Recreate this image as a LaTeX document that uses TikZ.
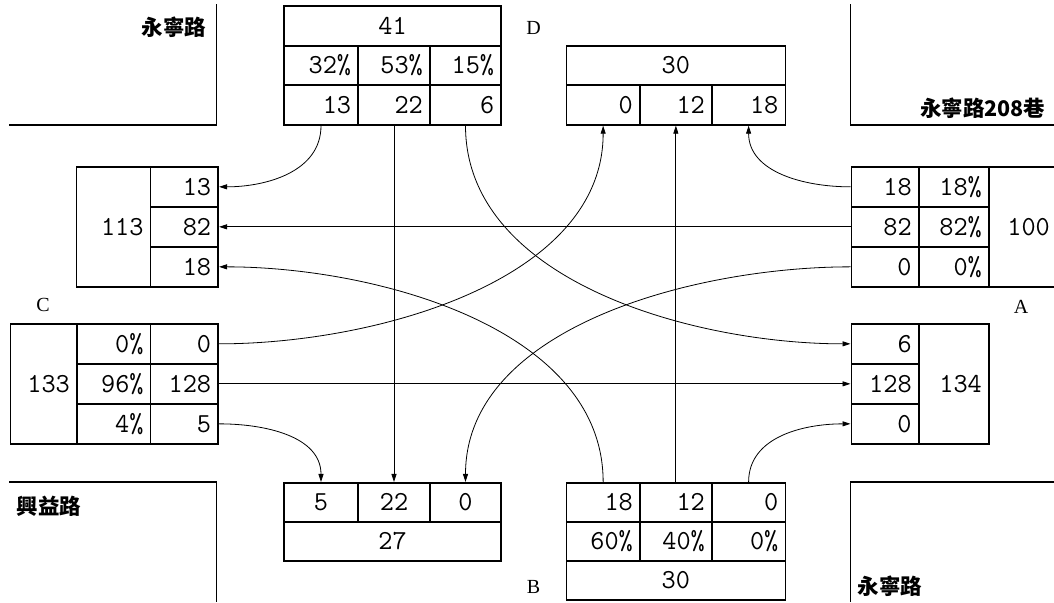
\documentclass[tikz,border=0pt]{standalone}
\usepackage{fontspec}
\newfontfamily\cjk{Noto Sans CJK TC}
\newfontfamily\legfont{Liberation Serif}
\usetikzlibrary{arrows.meta}
\begin{document}
\begin{tikzpicture}[>={Triangle[length=8pt,width=5pt]},x=1pt,y=1pt,
	cell/.style={draw,line width=1.7pt,anchor=north west,inner xsep=7pt,inner ysep=0pt,text width=#1pt-14pt,align=right,minimum height=40pt,font=\fontsize{27.5}{30}\ttfamily},
	road/.style={line width=1.7pt},
	flow/.style={->,line width=0.8pt},
	street/.style={font=\fontsize{21.5}{24}\cjk\bfseries},
	leg/.style={font=\fontsize{20}{22}\legfont}]
		\useasboundingbox (0,0) rectangle (1054,602);
		\draw[road] (9,477) -- (216.5,477) -- (216.5,598);
		\draw[road] (1054,477) -- (850.5,477) -- (850.5,598);
		\draw[road] (9,120) -- (216.5,120) -- (216.5,0);
		\draw[road] (1054,120) -- (850.5,120) -- (850.5,0);
		\node[street,anchor=east] (s1) at (210,575) {永寧路};
		\node[street,anchor=east] (s2) at (1049,494) {永寧路208巷};
		\node[street,anchor=west] (s3) at (13,96) {興益路};
		\node[street,anchor=west] (s4) at (854,16) {永寧路};
		\node[leg] (D) at (533.5,574) {D};
		\node[leg] (C) at (43,297) {C};
		\node[leg] (A) at (1021,295) {A};
		\node[leg] (B) at (533.5,15) {B};
		% approach D
		\node[cell=217.3,align=center,minimum height=39.5pt] (dt) at (283,596.5) {41};
		\node[cell=74.3,minimum height=39.5pt] (dp1) at (283,557) {32\%};
		\node[cell=71.7,minimum height=39.5pt] (dp2) at (357.3,557) {53\%};
		\node[cell=71.3,minimum height=39.5pt] (dp3) at (429,557) {15\%};
		\node[cell=74.3,minimum height=39.5pt] (d1) at (283,517.5) {13};
		\node[cell=71.7,minimum height=39.5pt] (d2) at (357.3,517.5) {22};
		\node[cell=71.3,minimum height=39.5pt] (d3) at (429,517.5) {6};
		\node[cell=218.9,align=center,minimum height=39.5pt] (ed) at (565.6,557) {30};
		\node[cell=73.4,minimum height=39.5pt] (ed1) at (565.6,517.5) {0};
		\node[cell=72,minimum height=39.5pt] (ed2) at (639,517.5) {12};
		\node[cell=73.5,minimum height=39.5pt] (ed3) at (711,517.5) {18};
		% approach C
		\node[cell=74,minimum height=120pt] (ec) at (75.7,436) {113};
		\node[cell=67.6] (ec1) at (149.7,436) {13};
		\node[cell=67.6] (ec2) at (149.7,396) {82};
		\node[cell=67.6] (ec3) at (149.7,356) {18};
		\node[cell=66.5,minimum height=120pt] (ct) at (9.5,279) {133};
		\node[cell=73.7] (cp1) at (76,279) {0\%};
		\node[cell=73.7] (cp2) at (76,239) {96\%};
		\node[cell=73.7] (cp3) at (76,199) {4\%};
		\node[cell=67.6] (c1) at (149.7,279) {0};
		\node[cell=67.6] (c2) at (149.7,239) {128};
		\node[cell=67.6] (c3) at (149.7,199) {5};
		% approach A
		\node[cell=67.3] (a1) at (850.5,436) {18};
		\node[cell=67.3] (a2) at (850.5,396) {82};
		\node[cell=67.3] (a3) at (850.5,356) {0};
		\node[cell=70.2] (ap1) at (917.8,436) {18\%};
		\node[cell=70.2] (ap2) at (917.8,396) {82\%};
		\node[cell=70.2] (ap3) at (917.8,356) {0\%};
		\node[cell=68,minimum height=120pt] (at) at (988,436) {100};
		\node[cell=67.3] (ea1) at (850.5,279) {6};
		\node[cell=67.3] (ea2) at (850.5,239) {128};
		\node[cell=67.3] (ea3) at (850.5,199) {0};
		\node[cell=70.2,minimum height=120pt] (ea) at (917.8,279) {134};
		% approach B
		\node[cell=74.3,align=center,minimum height=39pt] (eb1) at (283,120) {5};
		\node[cell=71.7,align=center,minimum height=39pt] (eb2) at (357.3,120) {22};
		\node[cell=71.3,align=center,minimum height=39pt] (eb3) at (429,120) {0};
		\node[cell=217.3,align=center,minimum height=39pt] (eb) at (283,81) {27};
		\node[cell=73.4,minimum height=39pt] (b1) at (565.6,120) {18};
		\node[cell=72,minimum height=39pt] (b2) at (639,120) {12};
		\node[cell=73.5,minimum height=39pt] (b3) at (711,120) {0};
		\node[cell=73.4,minimum height=39pt] (bp1) at (565.6,81) {60\%};
		\node[cell=72,minimum height=39pt] (bp2) at (639,81) {40\%};
		\node[cell=73.5,minimum height=39pt] (bp3) at (711,81) {0\%};
		\node[cell=218.9,align=center,minimum height=39pt] (bt) at (565.6,42) {30};
		% flows
		\draw[flow] (d1.south) to[out=-90,in=0] (ec1.east);
		\draw[flow] (d2.south) -- (eb2.north);
		\draw[flow] (d3.south) to[out=-90,in=180,looseness=0.9] (ea1.west);
		\draw[flow] (a1.west) to[out=180,in=-90] (ed3.south);
		\draw[flow] (a2.west) -- (ec2.east);
		\draw[flow] (a3.west) to[out=180,in=90,looseness=0.9] (eb3.north);
		\draw[flow] (c1.east) to[out=0,in=-90,looseness=0.9] (ed1.south);
		\draw[flow] (c2.east) -- (ea2.west);
		\draw[flow] (c3.east) to[out=0,in=90] (eb1.north);
		\draw[flow] (b1.north) to[out=90,in=0,looseness=0.9] (ec3.east);
		\draw[flow] (b2.north) -- (ed2.south);
		\draw[flow] (b3.north) to[out=90,in=180] (ea3.west);
\end{tikzpicture}
\end{document}
